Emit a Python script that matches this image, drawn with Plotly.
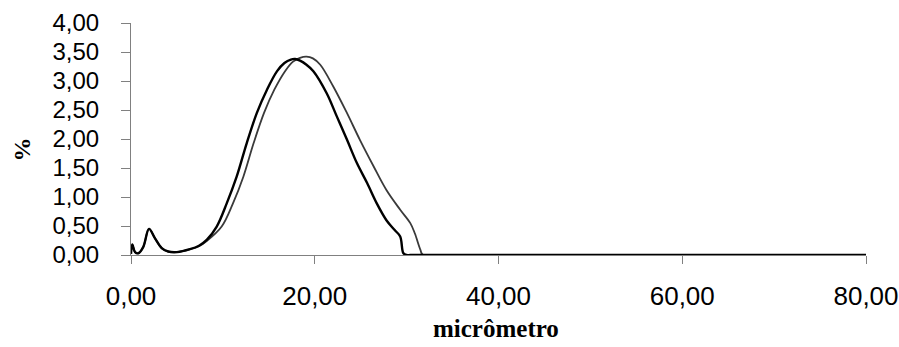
import plotly.graph_objects as go

# Series 1 (black, left peak)
x_a = [0.0, 0.14, 0.44, 0.8, 1.34, 1.96, 2.6, 3.34, 4.06, 5.0, 6.42, 7.4, 8.24, 9.33, 10.42,
       11.5, 12.6, 13.7, 14.8, 15.9, 16.7, 17.4, 17.86, 18.4, 19.1, 19.85, 21.3, 22.4, 23.5, 24.6, 25.7,
       26.75, 27.8, 28.7, 29.3, 29.65, 30.0, 30.4, 80.0]
y_a = [0.02, 0.18, 0.05, 0.03, 0.14, 0.45, 0.29, 0.12, 0.06, 0.05, 0.10, 0.16, 0.26, 0.49, 0.89,
       1.35, 1.93, 2.45, 2.85, 3.17, 3.31, 3.37, 3.38, 3.35, 3.28, 3.17, 2.79, 2.39, 1.99, 1.58, 1.24,
       0.89, 0.60, 0.43, 0.32, 0.03, 0.0, 0.0, 0.0]

# Series 2 (dark grey, right peak)
x_b = [0.0, 0.14, 0.44, 0.8, 1.34, 1.96, 2.6, 3.34, 4.06, 5.0, 6.42, 7.4, 8.24, 9.87, 11.1,
       12.23, 13.35, 14.48, 15.6, 16.77, 17.6, 18.4, 19.1, 19.8, 20.6, 22.0, 23.5, 24.9, 26.4, 27.8,
       29.3, 30.4, 30.9, 31.5, 31.8, 80.0]
y_b = [0.02, 0.18, 0.05, 0.03, 0.14, 0.45, 0.29, 0.12, 0.06, 0.05, 0.10, 0.15, 0.24, 0.49, 0.89,
       1.35, 1.93, 2.45, 2.85, 3.17, 3.33, 3.40, 3.42, 3.39, 3.28, 2.91, 2.45, 1.99, 1.53, 1.12,
       0.78, 0.55, 0.37, 0.09, 0.0, 0.0]

x_ticks = [0, 20, 40, 60, 80]
y_ticks = [0, 0.5, 1.0, 1.5, 2.0, 2.5, 3.0, 3.5, 4.0]

fig = go.Figure()
fig.add_trace(go.Scatter(x=x_b, y=y_b, mode="lines",
                         line=dict(color="#3a3a3a", width=1.8, shape="spline", smoothing=1.0),
                         showlegend=False))
fig.add_trace(go.Scatter(x=x_a, y=y_a, mode="lines",
                         line=dict(color="#000000", width=2.4, shape="spline", smoothing=1.0),
                         showlegend=False))

axis_color = "#808080"
fig.update_layout(
    width=899, height=347,
    margin=dict(l=131, r=33, t=23, b=92, autoexpand=False),
    paper_bgcolor="white", plot_bgcolor="white",
    separators=",.",
    showlegend=False,
    xaxis=dict(range=[0, 80], tickvals=x_ticks, tickformat=".2f", automargin=False,
               showgrid=False, zeroline=False, showline=True, linecolor=axis_color, linewidth=1,
               ticks="outside", ticklen=8, tickcolor=axis_color, tickwidth=1,
               tickfont=dict(family="Liberation Sans, Arial", size=26, color="#000"),
               ticklabelstandoff=10),
    yaxis=dict(range=[0, 4], tickvals=y_ticks, tickformat=".2f", automargin=False,
               showgrid=False, zeroline=False, showline=True, linecolor=axis_color, linewidth=1,
               ticks="outside", ticklen=9, tickcolor=axis_color, tickwidth=1,
               tickfont=dict(family="Liberation Sans, Arial", size=24, color="#000"),
               ticklabelstandoff=17),
    annotations=[
        dict(text="<b>%</b>", xref="paper", yref="paper", x=-0.1483, y=0.455,
             xanchor="center", yanchor="middle", textangle=-90, showarrow=False,
             font=dict(family="Liberation Serif, Times New Roman", size=24, color="#000")),
        dict(text="<b>micrômetro</b>", xref="paper", yref="paper", x=0.497, y=-0.318,
             xanchor="center", yanchor="middle", showarrow=False,
             font=dict(family="Liberation Serif, Times New Roman", size=25, color="#000")),
    ],
)
fig.write_html("out.html")
